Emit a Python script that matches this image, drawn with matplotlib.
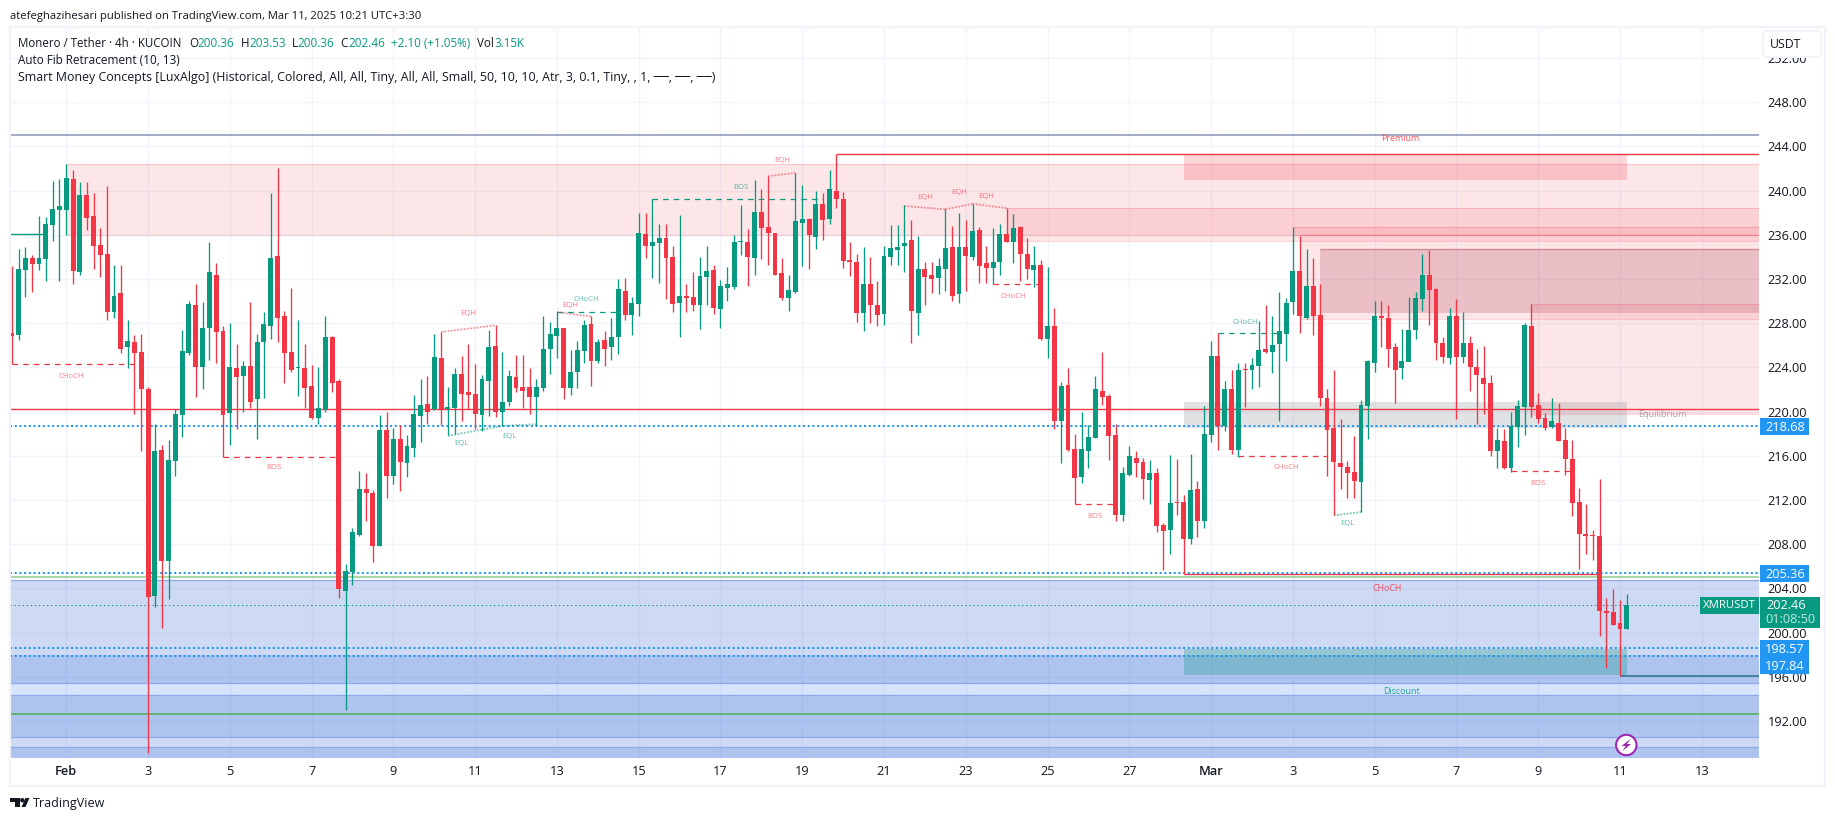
import matplotlib
matplotlib.use("Agg")
import matplotlib.pyplot as plt
from matplotlib.patches import Rectangle, Circle, Polygon, FancyBboxPatch

plt.rcParams['font.family'] = ['Open Sans', 'DejaVu Sans']

GREEN = "#089981"
RED = "#F23645"
BLUE = "#2196F3"
INK = "#131722"
GRID = "#F0F3FA"

# candles, 4h, oldest first
opens = [227.1, 226.9, 232.8, 233.9, 233.35, 233.8, 236.9, 238.2, 238.2, 241.0,
         232.6, 239.6, 237.7, 235.1, 234.3, 229.0, 230.7, 225.8, 226.3, 225.4,
         222.0, 203.3, 216.5, 206.5, 215.5, 219.7, 225.3, 229.6, 224.0, 227.6,
         232.4, 227.3, 219.9, 223.9, 223.2, 224.1, 221.1, 226.3, 227.7, 234.1,
         228.6, 225.4, 223.9, 223.9, 222.3, 219.4, 220.1, 226.7, 222.8, 203.8,
         205.5, 208.8, 213.0, 212.6, 207.8, 218.3, 214.2, 217.5, 215.3, 216.7,
         219.6, 220.7, 220.2, 224.8, 220.2, 220.3, 223.4, 221.8, 221.6, 219.7,
         222.8, 225.9, 220.0, 220.9, 223.1, 222.2, 222.2, 221.3, 222.1, 225.7,
         226.8, 227.6, 222.1, 223.6, 225.5, 227.9, 224.6, 226.5, 225.8, 226.7,
         230.9, 228.7, 229.7, 236.1, 235.0, 235.25, 235.7, 234.0, 229.8, 230.5,
         230.4, 229.6, 232.2, 232.8, 229.3, 231.2, 231.3, 235.3, 235.3, 233.9,
         238.1, 236.7, 236.2, 232.5, 230.3, 230.8, 237.1, 237.4, 235.8, 238.8,
         237.4, 240.0, 239.2, 233.7, 233.5, 228.9, 231.5, 229.6, 228.8, 234.0,
         234.6, 235.0, 235.5, 228.9, 232.9, 232.4, 232.1, 232.9, 234.9, 230.6,
         234.9, 234.0, 236.4, 233.4, 233.0, 233.5, 236.1, 235.3, 236.7, 234.3,
         232.8, 233.3, 226.6, 227.7, 219.1, 222.4, 216.6, 214.1, 216.4, 217.6,
         221.9, 221.4, 217.9, 210.6, 214.3, 215.8, 215.4, 213.8, 214.4, 209.7,
         209.3, 211.8, 211.8, 208.5, 213.0, 210.1, 217.9, 225.0, 218.7, 222.0,
         216.5, 223.8, 223.8, 224.1, 225.7, 225.4, 226.1, 227.0, 229.9, 232.7,
         228.5, 231.4, 228.7, 221.2, 218.5, 215.3, 215.0, 214.5, 213.6, 220.5,
         224.4, 228.6, 228.5, 225.8, 223.9, 224.5, 227.4, 230.2, 232.4, 231.1,
         226.2, 224.8, 228.6, 224.9, 226.2, 224.0, 223.0, 222.6, 216.4, 217.3,
         214.9, 218.6, 220.4, 227.7, 220.6, 219.4, 218.6, 219.0, 217.4, 215.7,
         211.8, 208.9, 208.8, 208.7, 201.95, 201.86, 200.9, 200.36]
highs = [233.2, 234.7, 234.9, 234.2, 237.7, 237.6, 240.9, 241.0, 242.4, 241.9,
         240.8, 240.8, 239.8, 236.6, 240.4, 233.3, 233.3, 228.3, 226.9, 227.0,
         222.2, 218.9, 217.0, 217.4, 220.2, 227.4, 230.0, 231.5, 229.9, 235.3,
         233.4, 227.7, 228.0, 226.1, 224.6, 229.9, 227.0, 229.0, 239.8, 242.0,
         229.1, 231.2, 228.3, 226.1, 224.2, 224.0, 228.6, 226.8, 222.9, 206.2,
         209.5, 214.6, 214.4, 212.9, 219.7, 220.0, 218.5, 218.8, 217.9, 221.5,
         222.9, 223.2, 227.0, 227.2, 222.2, 223.9, 225.0, 226.1, 224.3, 223.3,
         227.4, 227.8, 225.4, 223.8, 225.1, 225.1, 223.9, 222.9, 228.6, 228.1,
         229.0, 227.6, 225.6, 226.4, 228.3, 228.6, 226.6, 227.3, 228.5, 232.0,
         232.1, 230.4, 238.0, 238.0, 239.2, 237.0, 237.0, 235.0, 237.8, 231.5,
         232.6, 234.0, 235.0, 233.3, 231.9, 233.1, 236.0, 238.7, 236.5, 240.95,
         240.1, 241.3, 236.2, 233.9, 232.4, 241.6, 240.5, 237.5, 240.0, 239.8,
         241.9, 243.3, 239.9, 235.3, 234.3, 234.9, 234.0, 231.8, 235.0, 236.9,
         236.9, 238.7, 237.3, 235.9, 233.5, 233.5, 233.9, 238.3, 236.8, 238.0,
         237.3, 238.8, 236.7, 235.0, 236.6, 237.0, 238.4, 237.9, 236.8, 235.7,
         235.0, 233.7, 233.1, 229.4, 222.7, 223.9, 218.0, 220.0, 218.8, 223.2,
         225.4, 221.6, 218.9, 215.0, 216.9, 216.4, 215.8, 215.6, 214.9, 209.9,
         216.1, 215.7, 212.4, 216.2, 213.7, 220.5, 226.4, 227.1, 222.8, 223.8,
         224.4, 224.4, 224.8, 228.2, 229.6, 228.6, 230.8, 230.3, 236.7, 235.9,
         234.7, 233.9, 231.5, 222.0, 223.8, 219.3, 215.5, 217.8, 221.0, 224.7,
         230.0, 230.0, 229.6, 226.2, 227.5, 230.4, 230.8, 234.3, 234.6, 231.2,
         226.7, 229.4, 230.2, 229.0, 226.8, 225.7, 225.9, 223.3, 218.5, 218.4,
         220.0, 221.0, 228.0, 229.7, 221.7, 219.9, 221.2, 220.8, 218.5, 217.4,
         213.1, 211.6, 209.3, 213.9, 203.1, 203.9, 202.95, 203.53]
lows = [224.3, 226.5, 230.4, 230.8, 232.8, 231.8, 235.4, 231.8, 236.0, 231.5,
        232.4, 236.4, 232.9, 232.2, 228.3, 228.5, 225.3, 223.9, 219.8, 216.4,
        189.1, 202.3, 200.4, 203.0, 214.2, 217.7, 225.1, 221.3, 222.0, 224.7,
        224.4, 215.9, 217.0, 218.4, 220.0, 220.3, 217.5, 221.2, 226.6, 226.3,
        222.6, 223.6, 221.4, 220.3, 219.3, 218.9, 220.0, 221.8, 203.1, 193.0,
        204.3, 208.7, 210.1, 206.4, 207.8, 212.2, 213.4, 212.8, 214.1, 215.9,
        217.2, 218.9, 220.1, 218.8, 217.9, 218.0, 219.1, 220.2, 218.4, 218.2,
        219.6, 219.5, 218.7, 220.5, 221.8, 220.3, 219.8, 218.8, 221.9, 223.4,
        224.8, 221.1, 221.5, 222.1, 224.4, 222.3, 224.4, 224.1, 224.7, 225.2,
        228.3, 226.9, 228.6, 233.9, 232.1, 231.6, 230.2, 229.0, 226.7, 229.0,
        229.1, 227.5, 229.6, 228.8, 227.6, 230.0, 231.1, 234.2, 231.4, 232.4,
        233.8, 233.3, 232.4, 230.1, 229.1, 230.7, 233.2, 232.9, 234.7, 235.5,
        237.0, 238.4, 233.0, 232.3, 228.1, 227.3, 228.0, 227.7, 227.8, 233.3,
        233.3, 232.6, 226.2, 226.9, 229.6, 230.7, 230.6, 230.9, 230.0, 229.8,
        230.9, 233.7, 231.6, 231.6, 231.5, 232.4, 235.3, 233.4, 231.8, 232.0,
        231.3, 226.5, 224.8, 218.4, 215.3, 216.4, 211.6, 213.5, 214.9, 217.6,
        220.6, 215.6, 210.1, 210.1, 214.2, 214.1, 212.1, 211.6, 209.1, 205.7,
        207.1, 210.6, 205.3, 208.0, 208.6, 209.5, 217.2, 216.5, 218.2, 216.2,
        215.9, 220.4, 222.0, 222.2, 225.3, 223.5, 219.1, 224.6, 228.8, 227.1,
        228.4, 226.9, 220.5, 214.2, 210.6, 213.0, 212.2, 212.2, 210.9, 217.5,
        223.6, 225.8, 224.0, 220.8, 222.9, 226.6, 226.6, 229.1, 227.8, 224.7,
        224.4, 224.3, 219.3, 224.4, 221.9, 218.9, 219.8, 216.0, 214.9, 214.8,
        214.5, 216.8, 217.9, 219.5, 219.0, 218.3, 218.5, 217.3, 214.3, 210.5,
        205.75, 207.1, 206.6, 199.7, 196.8, 200.7, 196.1, 200.36]
closes = [226.8, 232.9, 233.9, 233.35, 233.9, 237.0, 238.3, 238.6, 241.1, 232.7,
          239.6, 237.5, 235.0, 234.2, 229.0, 230.5, 225.7, 226.4, 225.3, 222.0,
          203.2, 216.4, 206.5, 215.6, 219.8, 225.5, 229.7, 224.0, 227.6, 232.6,
          227.2, 219.7, 224.0, 223.1, 224.1, 220.9, 226.3, 227.9, 233.9, 228.5,
          225.3, 223.8, 223.95, 222.1, 219.4, 220.3, 226.7, 222.6, 203.9, 205.6,
          209.1, 213.0, 212.6, 207.8, 218.3, 214.2, 217.5, 215.4, 216.9, 219.8,
          220.6, 220.0, 224.9, 220.2, 220.4, 223.4, 221.6, 221.5, 219.8, 222.9,
          225.8, 220.0, 220.9, 223.2, 222.1, 221.9, 221.3, 222.2, 225.7, 227.0,
          227.6, 222.1, 223.6, 225.6, 227.8, 224.6, 226.3, 225.7, 226.7, 231.1,
          228.7, 229.8, 236.2, 235.0, 235.3, 235.7, 233.9, 229.7, 230.5, 230.3,
          229.6, 232.3, 232.7, 229.4, 231.4, 231.5, 235.3, 235.4, 234.0, 238.1,
          236.6, 236.2, 232.4, 230.3, 231.0, 237.2, 237.4, 236.0, 238.8, 237.3,
          240.1, 239.2, 233.6, 233.5, 228.9, 231.5, 229.6, 228.7, 234.1, 234.8,
          234.9, 235.25, 229.1, 232.9, 232.2, 232.0, 233.2, 234.8, 230.5, 234.9,
          234.1, 236.3, 233.2, 233.0, 233.5, 236.1, 235.3, 236.6, 234.3, 232.9,
          233.3, 226.6, 227.7, 219.1, 222.3, 216.5, 214.0, 216.6, 217.7, 222.0,
          221.3, 217.8, 210.6, 214.4, 216.0, 215.3, 213.9, 214.4, 209.6, 209.2,
          211.7, 211.7, 208.5, 212.9, 210.1, 218.0, 225.0, 218.7, 222.0, 216.5,
          223.8, 223.75, 224.2, 225.6, 225.4, 226.0, 227.3, 229.8, 232.7, 228.6,
          231.4, 228.6, 221.2, 218.3, 215.4, 215.0, 214.4, 213.7, 220.6, 224.6,
          228.6, 228.5, 225.7, 223.8, 224.6, 227.4, 230.3, 232.4, 231.0, 226.2,
          224.9, 228.6, 224.9, 226.2, 224.0, 223.3, 222.5, 216.4, 217.4, 214.9,
          218.7, 220.5, 227.8, 220.4, 219.3, 218.5, 219.1, 217.3, 215.7, 211.7,
          208.9, 208.7, 208.75, 201.95, 201.8, 200.7, 200.36, 202.46]

# x tick labels, every 2 days (12 candles) from Feb 1 on candle 8
day_labels = ["Feb", "3", "5", "7", "9", "11", "13", "15", "17", "19", "21", "23", "25", "27",
              "Mar", "3", "5", "7", "9", "11", "13"]
day_candles = [8 + 12 * k for k in range(14)] + [176 + 12 * k for k in range(7)]
price_ticks = list(range(192, 256, 4))

# zones: first candle, last candle (None = right edge), top, bottom
pink_zones = [(8, None, 242.4, 236.0), (146, None, 238.4, 235.4), (188, None, 236.67, 235.97),
              (189, None, 236.0, 228.4), (223, None, 229.73, 219.8)]
# blue fib bands: top, bottom, colour, alpha
blue_bands = [(204.75, 197.97, "#3F6BD3", 0.25), (197.97, 195.46, "#396BD9", 0.40),
              (195.46, 194.35, "#3278FF", 0.20), (194.35, 190.58, "#396BD9", 0.40),
              (190.58, 189.61, "#3F6BD3", 0.25), (189.61, 188.67, "#396BD9", 0.40)]
blue_edges = [204.75, 195.46, 194.35, 190.58, 189.61]

# structure lines: x0, x1, price
dashed_red = [(0, 18, 224.27), (31, 48, 215.9), (144, 151, 231.5), (156, 162, 211.6), (180, 193, 215.95),
              (220, 229, 214.6)]
dashed_green = [(80, 89, 229.04), (94, 119, 239.2), (177, 186, 227.08)]
eq_highs = [(63, 227.2, 71, 227.8), (80, 229.0, 85, 228.6), (111, 241.3, 115, 241.6),
            (131, 238.6, 137, 238.3), (137, 238.3, 141, 238.8), (141, 238.8, 146, 238.4)]
eq_lows = [(64, 217.8, 72, 218.7), (72, 218.7, 77, 218.85), (194, 210.6, 198, 210.9)]
labels_red = [("CHoCH", 8.7, 223.15), ("BOS", 38.5, 214.9), ("EQH", 67, 228.86), ("EQH", 82, 229.6),
              ("EQH", 113, 242.7), ("EQH", 134, 239.4), ("EQH", 139, 239.8), ("EQH", 143, 239.5),
              ("CHoCH", 147, 230.4), ("BOS", 159, 210.5), ("CHoCH", 187, 214.9), ("BOS", 224, 213.5)]
labels_green = [("EQL", 66, 217.1), ("EQL", 73, 217.7), ("CHoCH", 84.3, 230.15), ("BOS", 107, 240.3),
                ("CHoCH", 181, 228.1), ("EQL", 196, 209.9)]

W, H = 1835, 821
fig = plt.figure(figsize=(W / 100, H / 100), dpi=100, facecolor="white")

# plot area 10..1759 x 27..757.7 in pixels
ax = fig.add_axes([10 / W, 1 - 757.7 / H, 1749 / W, 730.7 / H])
x_left, x_right = -0.26, 256.4
ax.set_xlim(x_left, x_right)
ax.set_ylim(188.67, 254.8)
for s in ax.spines.values():
    s.set_visible(False)

ax.set_xticks(day_candles)
ax.set_xticklabels(day_labels)
ax.set_yticks(price_ticks)
ax.set_yticklabels([f"{p:.2f}" for p in price_ticks])
ax.yaxis.tick_right()
ax.tick_params(axis="both", length=0, labelsize=9.2, labelcolor=INK)
ax.tick_params(axis="x", pad=5)
ax.tick_params(axis="y", pad=6)
for t, lab in zip(ax.get_xticklabels(), day_labels):
    if lab in ("Feb", "Mar"):
        t.set_fontweight("semibold")
ax.grid(True, color=GRID, lw=1.0)
ax.set_axisbelow(True)


def zone(start, end, top, bottom, color, alpha, z=1.0, edge=True):
    if end is None:
        end = x_right
    ax.add_patch(Rectangle((start, bottom), end - start, top - bottom, facecolor=color, alpha=alpha,
                           edgecolor="none", zorder=z))
    if edge:
        ax.hlines([top, bottom], start, end, color=color, lw=0.8, alpha=0.2, zorder=z)


for start, end, top, bottom in pink_zones:
    zone(start, end, top, bottom, RED, 0.12)
for top, bottom, color, alpha in blue_bands:
    zone(x_left, None, top, bottom, color, alpha, edge=False)
ax.hlines(blue_edges, x_left, x_right, color="#8FA8E8", lw=0.9, zorder=1.1)

zone(192, None, 234.7, 228.9, "#C16574", 0.3, z=1.2, edge=False)
ax.hlines([234.7], 192, x_right, color="#C16574", lw=1.0, alpha=0.6, zorder=1.2)
zone(172, 237, 243.3, 240.95, RED, 0.2, z=1.3, edge=False)
zone(172, 237, 220.9, 218.5, "#787B86", 0.22, z=1.3, edge=False)
zone(172, 237, 198.5, 196.16, "#089981", 0.28, z=1.3, edge=False)

# fib and level lines
ax.axhline(245.0, color="#8C92B8", lw=1.1, zorder=2)
ax.axhline(220.2, color=RED, lw=1.0, zorder=2)
ax.axhline(205.0, color="#8FCC8F", lw=1.1, zorder=2)
ax.axhline(192.6, color="#4CAF50", lw=1.1, zorder=2)
ax.hlines(243.3, 121, x_right, color=RED, lw=1.0, zorder=2)
ax.hlines(205.3, 172, 233, color=RED, lw=1.0, zorder=2)
ax.hlines(196.1, 236, x_right, color="#24707F", lw=1.1, zorder=2)
ax.hlines(236.1, x_left, 5, color=GREEN, lw=1.0, zorder=2)
for level in (218.68, 205.36, 198.57, 197.84):
    ax.axhline(level, color=BLUE, lw=1.45, linestyle=(0, (1, 1.33)), zorder=2.5)
ax.axhline(closes[-1], color=GREEN, lw=0.75, linestyle=(0, (1.3, 2.6)), zorder=2.5)

for x0, x1, p in dashed_red:
    ax.hlines(p, x0, x1, color=RED, lw=0.9, linestyle=(0, (4.5, 4)), zorder=3)
for x0, x1, p in dashed_green:
    ax.hlines(p, x0, x1, color=GREEN, lw=0.9, linestyle=(0, (4.5, 4)), zorder=3)
for x0, p0, x1, p1 in eq_highs:
    ax.plot([x0, x1], [p0, p1], color=RED, alpha=0.55, lw=1.3, linestyle=(0, (1, 0.8)), zorder=3)
for x0, p0, x1, p1 in eq_lows:
    ax.plot([x0, x1], [p0, p1], color=GREEN, alpha=0.55, lw=1.3, linestyle=(0, (1, 0.8)), zorder=3)
for text, x, p in labels_red:
    ax.text(x, p, text, color=RED, alpha=0.65, fontsize=5.6, ha="center", va="center", zorder=3)
for text, x, p in labels_green:
    ax.text(x, p, text, color=GREEN, alpha=0.65, fontsize=5.6, ha="center", va="center", zorder=3)

ax.text(203.8, 244.7, "Premium", color=RED, alpha=0.85, fontsize=6.5, ha="center", va="center", zorder=3)
ax.text(201.8, 204.0, "CHoCH", color=RED, alpha=0.85, fontsize=6.4, ha="center", va="center", zorder=3)
ax.text(203.9, 194.7, "Discount", color=GREEN, alpha=0.85, fontsize=6.4, ha="center", va="center", zorder=3)
ax.text(242.3, 219.7, "Equilibrium", color="#787B86", alpha=0.6, fontsize=6.6, ha="center", va="center", zorder=3)

# candles
idx = list(range(len(closes)))
colors = [GREEN if c >= o else RED for o, c in zip(opens, closes)]
ax.vlines(idx, lows, highs, colors=colors, lw=0.95, zorder=4)
ax.bar(idx, [max(abs(c - o), 0.12) for o, c in zip(opens, closes)],
       bottom=[min(o, c) for o, c in zip(opens, closes)], width=0.72, color=colors, linewidth=0, zorder=5)

# chrome in pixel coordinates
ov = fig.add_axes([0, 0, 1, 1], facecolor="none")
ov.set_xlim(0, W)
ov.set_ylim(H, 0)
ov.axis("off")

ov.add_patch(Rectangle((10, 27), 1815, 759, fill=False, edgecolor=GRID, lw=1.6))
ov.text(10, 16, "atefeghazihesari published on TradingView.com, Mar 11, 2025 10:21 UTC+3:30",
        fontsize=8.15, color=INK, va="center")

head_y = 43.5
ov.text(18, head_y, "Monero / Tether · 4h · KUCOIN", fontsize=8.3, color=INK, va="center")
header_parts = [("O", 189.5, INK), ("200.36", 197.5, GREEN), ("H", 241, INK), ("203.53", 249, GREEN),
                ("L", 292, INK), ("200.36", 297.5, GREEN), ("C", 340.5, INK), ("202.46", 348, GREEN),
                ("+2.10 (+1.05%)", 391, GREEN), ("Vol", 477, INK), ("3.15K", 494, GREEN)]
for text, x, color in header_parts:
    ov.text(x, head_y, text, fontsize=8.4, color=color, va="center")
ov.text(18, 60.5, "Auto Fib Retracement (10, 13)", fontsize=8.5, color=INK, va="center")
ov.text(18, 77.5, "Smart Money Concepts [LuxAlgo] (Historical, Colored, All, All, Tiny, All, All, Small, "
        "50, 10, 10, Atr, 3, 0.1, Tiny, , 1, ──, ──, ──)", fontsize=8.9, color=INK, va="center")

# USDT button hides the 252 label partly
ov.add_patch(Rectangle((1760, 28), 62, 30, facecolor="white", edgecolor="none"))
ov.add_patch(FancyBboxPatch((1763, 31), 58, 26, boxstyle="round,pad=0,rounding_size=3",
                            facecolor="white", edgecolor=GRID, lw=1.2))
ov.text(1786, 44.5, "USDT", fontsize=8.8, color=INK, ha="center", va="center")

# price badges
for value, y in (("218.68", 426.7), ("205.36", 573.6), ("198.57", 648.7), ("197.84", 665.7)):
    ov.add_patch(Rectangle((1760, y - 8.6), 49, 17.2, facecolor=BLUE, edgecolor="none"))
    ov.text(1785, y + 0.5, value, fontsize=9.2, color="white", ha="center", va="center")
ov.add_patch(Rectangle((1700, 597), 59, 16.8, facecolor=GREEN, edgecolor="none"))
ov.text(1729.5, 605.5, "XMRUSDT", fontsize=8.2, color="white", ha="center", va="center")
ov.add_patch(Rectangle((1760, 597), 60, 30.7, facecolor=GREEN, edgecolor="none"))
ov.text(1786, 605.5, f"{closes[-1]:.2f}", fontsize=9.2, color="white", ha="center", va="center")
ov.text(1790, 619.5, "01:08:50", fontsize=9.2, color="#BFE6DE", ha="center", va="center")

# lightning marker
ov.add_patch(Circle((1626.3, 745), 10.2, facecolor="white", edgecolor="#9C27B0", lw=1.5))
ov.add_patch(Polygon([(1630.5, 739), (1621.5, 746), (1625.6, 746), (1622.5, 751),
                      (1631, 744), (1627, 744)], closed=True, facecolor="#9C27B0", edgecolor="none"))

# TradingView logo
ov.add_patch(Polygon([(10, 798), (19.5, 798), (19.5, 807), (14.5, 807), (14.5, 802.5), (10, 802.5)],
                     closed=True, facecolor=INK, edgecolor="none"))
ov.add_patch(Circle((22.3, 800.2), 2.2, facecolor=INK, edgecolor="none"))
ov.add_patch(Polygon([(21.5, 807), (25.5, 798), (29.5, 798), (25.5, 807)], closed=True,
                     facecolor=INK, edgecolor="none"))
ov.text(33, 803, "TradingView", fontsize=9.0, color=INK, va="center")

fig.savefig("out.png", dpi=100)
